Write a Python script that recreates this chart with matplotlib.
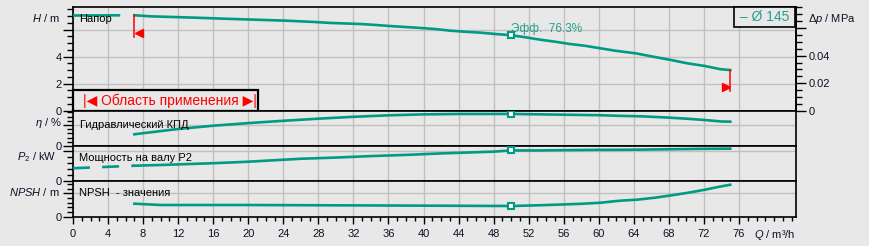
import numpy as np
import matplotlib
matplotlib.use('Agg')
from matplotlib import pyplot as plt
from matplotlib.ticker import FixedLocator, FixedFormatter, MultipleLocator
from matplotlib.patches import Rectangle

plt.rcParams['font.family'] = ['Liberation Sans', 'DejaVu Sans']
plt.rcParams['mathtext.fontset'] = 'custom'
plt.rcParams['mathtext.it'] = 'Liberation Sans:italic'
plt.rcParams['mathtext.rm'] = 'Liberation Sans'
plt.rcParams['lines.scale_dashes'] = False

#%% Data
# Head H (m)
h_q = [7, 8.8, 13.9, 17.4, 20.8, 24.2, 27.6, 29.3, 32.8, 34.5, 36.2, 37.9, 39.6, 41.3,
       43, 44.7, 46.5, 48.2, 50, 51.6, 53.3, 55, 56.7, 58.4, 60.2, 61.9, 64.2, 66.2,
       68.2, 70.1, 72.1, 73.9, 75]
h_m = [7.07, 6.99, 6.89, 6.81, 6.74, 6.67, 6.57, 6.50, 6.42, 6.35, 6.27, 6.20, 6.13, 6.05,
       5.93, 5.85, 5.78, 5.68, 5.59, 5.44, 5.26, 5.11, 4.94, 4.81, 4.62, 4.44, 4.25, 4.00,
       3.76, 3.51, 3.31, 3.07, 3.01]
h_q_ext = [0, 7]
h_m_ext = [7.05, 7.07]

# Hydraulic efficiency (%)
eta_q = [7, 9, 12, 16, 20, 24, 28, 32, 36, 40, 44, 50, 56, 60, 62, 65, 68, 70, 72, 74, 75]
eta = [27.9, 33, 40.5, 48.3, 54.5, 60, 65, 69.5, 73, 75.3, 76.2, 76.3, 74.5, 73.3, 72,
       70.5, 67.5, 65, 62, 58.3, 57.9]

# Shaft power P2 (kW)
p_q = [7, 10, 13, 16, 20, 23, 26, 30, 34, 38, 42, 45, 48, 50, 53, 56, 60, 64, 68, 72, 75]
p_kw = [0.505, 0.53, 0.56, 0.59, 0.64, 0.69, 0.74, 0.78, 0.83, 0.87, 0.92, 0.95, 0.98,
        1.02, 1.02, 1.03, 1.04, 1.045, 1.06, 1.075, 1.08]
p_q_ext = [0, 7]
p_kw_ext = [0.42, 0.505]

# NPSH (m)
n_q = [7, 10, 20, 35, 50, 53.3, 57.9, 60.2, 62.4, 64.3, 66.4, 68.3, 70.2, 72.1, 74.0, 75]
npsh = [2.78, 2.5, 2.5, 2.4, 2.29, 2.45, 2.75, 2.99, 3.42, 3.63, 4.06, 4.57, 5.13, 5.77,
        6.5, 6.84]

duty_q = 50.0
duty_eff = '76.3%'
q_min, q_max = 7.0, 75.0
diameter = 'Ø 145'

#%% Styling
W, H = 869, 246
bg = '#e8e8e8'
teal = '#009b84'
teal_txt = '#22a08d'
grid_c = '#c0c0c0'
ink = '#101025'

def fx(px):
    return px / W

def fy(py):
    return 1 - py / H

fig = plt.figure(figsize=(W / 100, H / 100), dpi=100, facecolor=bg)
left = fx(73)
width = fx(796) - fx(73)
ax_h = fig.add_axes([left, fy(110.7), width, (110.7 - 7) / H])
ax_e = fig.add_axes([left, fy(146), width, (146 - 110.7) / H], sharex=ax_h)
ax_p = fig.add_axes([left, fy(180.7), width, (180.7 - 146) / H], sharex=ax_h)
ax_n = fig.add_axes([left, fy(216.7), width, (216.7 - 180.7) / H], sharex=ax_h)
axes = [ax_h, ax_e, ax_p, ax_n]

ylims = [(0, 7.68), (0, 84), (0, 1.17), (0, 7.7)]
majors = [[0, 2, 4, 6], [0, 50], [0, 1.0], [0, 5]]
major_lbl = [['0', '2', '4', ''], ['0', ''], ['0', ''], ['0', '']]
minors = [0.5, 10, 0.2, 1]

for ax, yl, mj, ml, mn in zip(axes, ylims, majors, major_lbl, minors):
    ax.set_facecolor(bg)
    ax.set_xlim(0, 82.5)
    ax.set_ylim(*yl)
    ax.yaxis.set_major_locator(FixedLocator(mj))
    ax.yaxis.set_major_formatter(FixedFormatter(ml))
    ax.yaxis.set_minor_locator(MultipleLocator(mn))
    ax.xaxis.set_major_locator(MultipleLocator(4))
    ax.xaxis.set_minor_locator(MultipleLocator(1))
    ax.grid(which='major', color=grid_c, lw=1.0, zorder=0)
    ax.set_axisbelow(True)
    ax.tick_params(axis='y', which='major', length=7, width=1, pad=1,
                   labelsize=8, labelcolor=ink)
    ax.tick_params(axis='y', which='minor', length=4, width=1)
    for s in ax.spines.values():
        s.set_linewidth(1.2)
        s.set_color('black')
    if ax is not ax_n:
        ax.tick_params(axis='x', which='both', length=0, labelbottom=False)

ax_n.tick_params(axis='x', which='major', length=5, width=1, pad=4,
                 labelsize=8, labelcolor=ink)
ax_n.tick_params(axis='x', which='minor', length=3, width=1)
ax_n.set_xticks(np.arange(0, 77, 4))

#%% Curves
lw = 1.9
ax_h.plot(h_q, h_m, color=teal, lw=lw, zorder=3)
ax_h.plot(h_q_ext, h_m_ext, color=teal, lw=lw, dashes=[34, 9.5], zorder=3)
ax_e.plot(eta_q, eta, color=teal, lw=lw, zorder=3)
ax_p.plot(p_q, p_kw, color=teal, lw=lw, zorder=3)
ax_p.plot(p_q_ext, p_kw_ext, color=teal, lw=lw, dashes=[12.2, 8.8], zorder=3)
ax_n.plot(n_q, npsh, color=teal, lw=lw, zorder=3)

for ax, qq, vv in [(ax_h, h_q, h_m), (ax_e, eta_q, eta), (ax_p, p_q, p_kw), (ax_n, n_q, npsh)]:
    ax.plot([duty_q], [np.interp(duty_q, qq, vv)], 's', ms=4.5, mfc='white',
            mec=teal, mew=1.5, zorder=4)

ax_h.text(duty_q, 6.07, 'Эфф.  ' + duty_eff, color=teal_txt, fontsize=8.5,
          ha='left', va='center')

# operating range limits
h_lo = np.interp(q_min, h_q, h_m)
h_hi = np.interp(q_max, h_q, h_m)
ax_h.plot([q_min, q_min], [h_lo, 5.48], color='red', lw=1.1, zorder=4)
ax_h.plot([q_min + 0.55], [5.72], '<', color='red', ms=6, zorder=4)
ax_h.plot([q_max, q_max], [h_hi, 1.48], color='red', lw=1.1, zorder=4)
ax_h.plot([q_max - 0.5], [1.73], '>', color='red', ms=6, zorder=4)

# pressure axis on the right
sec = ax_h.secondary_yaxis('right', functions=(lambda h: h * 0.00981, lambda p: p / 0.00981))
sec.yaxis.set_major_locator(FixedLocator([0, 0.02, 0.04, 0.06]))
sec.yaxis.set_major_formatter(FixedFormatter(['0', '0.02', '0.04', '']))
sec.yaxis.set_minor_locator(MultipleLocator(0.005))
sec.tick_params(which='major', length=7, width=1, pad=2, labelsize=8, labelcolor=ink)
sec.tick_params(which='minor', length=4, width=1)
sec.spines['right'].set_linewidth(1.2)

# application range box
ax_h.add_patch(Rectangle((0, 0), (258 - 73) / 723, 0.2, transform=ax_h.transAxes,
                         facecolor=bg, edgecolor='black', lw=1.6, zorder=5, clip_on=False))
ax_h.text((169.5 - 73) / 723, 0.1, '|◀ Область применения ▶|', transform=ax_h.transAxes,
          color='red', fontsize=10, ha='center', va='center', zorder=6)

# legend box
ax_h.add_patch(Rectangle(((734 - 73) / 723, (110.7 - 26.7) / 103.7),
                         (795 - 734) / 723, (26.7 - 7) / 103.7, transform=ax_h.transAxes,
                         facecolor=bg, edgecolor='black', lw=1.2, zorder=5, clip_on=False))
fig.text(fx(764.5), fy(17), '– ' + diameter, color=teal_txt, fontsize=10,
         ha='center', va='center', zorder=6)

#%% Labels
fig.text(fx(79), fy(19), 'Напор', fontsize=8, color='black', va='center')
fig.text(fx(80), fy(124.5), 'Гидравлический КПД', fontsize=8, color='black', va='center')
fig.text(fx(79), fy(158), 'Мощность на валу P2', fontsize=8, color='black', va='center')
fig.text(fx(79), fy(193), 'NPSH  - значения', fontsize=8, color='black', va='center')

fig.text(fx(60), fy(17.5), r'$H$ / m', fontsize=8, color=ink, ha='right', va='center')
fig.text(fx(61.5), fy(123), r'$\eta$ / %', fontsize=8, color=ink, ha='right', va='center')
fig.text(fx(56), fy(157.5), r'$P_2$ / kW', fontsize=8, color=ink, ha='right', va='center')
fig.text(fx(60), fy(192), r'$NPSH$ / m', fontsize=8, color=ink, ha='right', va='center')
fig.text(fx(808), fy(18.5), r'Δ$p$ / MPa', fontsize=8, color=ink, ha='left', va='center')
fig.text(fx(754), fy(234.5), r'$Q$ / m³/h', fontsize=8, color=ink, ha='left', va='center')

fig.savefig('out.png', dpi=100, facecolor=bg)
